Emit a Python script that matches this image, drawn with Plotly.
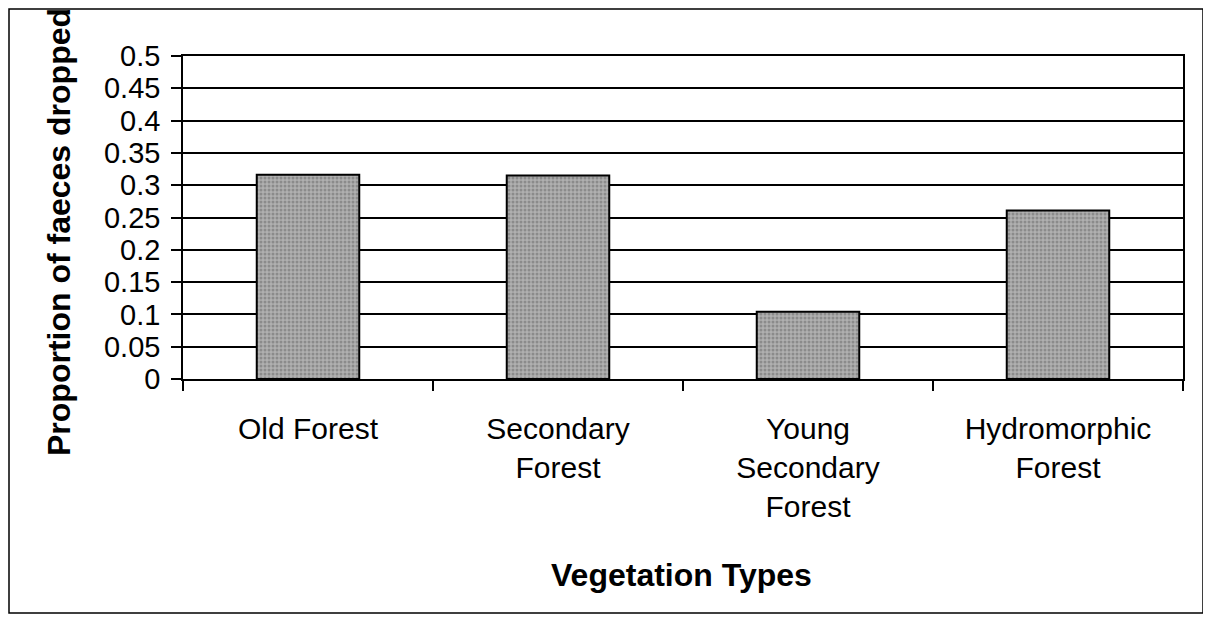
import plotly.graph_objects as go

categories = ["Old Forest", "Secondary<br>Forest", "Young<br>Secondary<br>Forest", "Hydromorphic<br>Forest"]
proportions = [0.316, 0.315, 0.104, 0.261]
y_ticks = [0, 0.05, 0.1, 0.15, 0.2, 0.25, 0.3, 0.35, 0.4, 0.45, 0.5]
y_tick_labels = ["0", "0.05", "0.1", "0.15", "0.2", "0.25", "0.3", "0.35", "0.4", "0.45", "0.5"]
x_title = "Vegetation Types"
y_title = "Proportion of faeces dropped"

FONT = "Liberation Sans, Arial, sans-serif"

# figure-pixel geometry (page is offset by the 8px body margin)
W, H = 1203, 612
PL, PR, PT, PB = 175, 1175, 48, 371
PW, PH = PR - PL, PB - PT

def px(x):
    return (x - PL) / PW

def py(y):
    return (PB - y) / PH

fig = go.Figure(
    go.Bar(
        x=categories,
        y=proportions,
        marker=dict(
            color="#a0a0a0",
            line=dict(color="black", width=2),
            pattern=dict(shape=".", fgcolor="#666666", bgcolor="#b0b0b0", size=4, solidity=0.45),
        ),
    )
)

fig.update_layout(
    width=W,
    height=H,
    margin=dict(l=PL, r=W - PR, t=PT, b=H - PB),
    paper_bgcolor="white",
    plot_bgcolor="white",
    bargap=0.59,
    showlegend=False,
    font=dict(family=FONT, color="black", size=29),
)

fig.update_xaxes(
    type="category",
    tickson="boundaries",
    ticks="outside",
    ticklen=10,
    tickwidth=1.5,
    tickcolor="black",
    showline=True,
    linecolor="black",
    linewidth=1.5,
    mirror=True,
    showgrid=False,
    tickfont=dict(size=30, family=FONT, color="black"),
    ticklabelstandoff=22,
)

fig.update_yaxes(
    range=[0, 0.5],
    tickvals=y_ticks,
    ticktext=y_tick_labels,
    ticks="outside",
    ticklen=10,
    tickwidth=1.5,
    tickcolor="black",
    showline=True,
    linecolor="black",
    linewidth=1.5,
    mirror=True,
    showgrid=True,
    gridcolor="black",
    gridwidth=1.5,
    zeroline=False,
    tickfont=dict(size=29, family=FONT, color="black"),
    ticklabelstandoff=5,
)

# y-axis title
fig.add_annotation(
    text=f"<b>{y_title}</b>",
    xref="paper", yref="paper",
    x=px(51), y=py(224),
    xanchor="center", yanchor="middle",
    textangle=-90, showarrow=False,
    font=dict(size=32, family=FONT, color="black"),
)

# x-axis title
fig.add_annotation(
    text=f"<b>{x_title}</b>",
    xref="paper", yref="paper",
    x=px(673), y=py(567),
    xanchor="center", yanchor="middle",
    showarrow=False,
    font=dict(size=32, family=FONT, color="black"),
)

# outer chart border
fig.add_shape(
    type="rect", xref="paper", yref="paper",
    x0=px(1), x1=px(1195),
    y0=py(605), y1=py(1),
    line=dict(color="black", width=1.5),
    fillcolor="rgba(0,0,0,0)",
    layer="below",
)

fig.write_html("out.html")
